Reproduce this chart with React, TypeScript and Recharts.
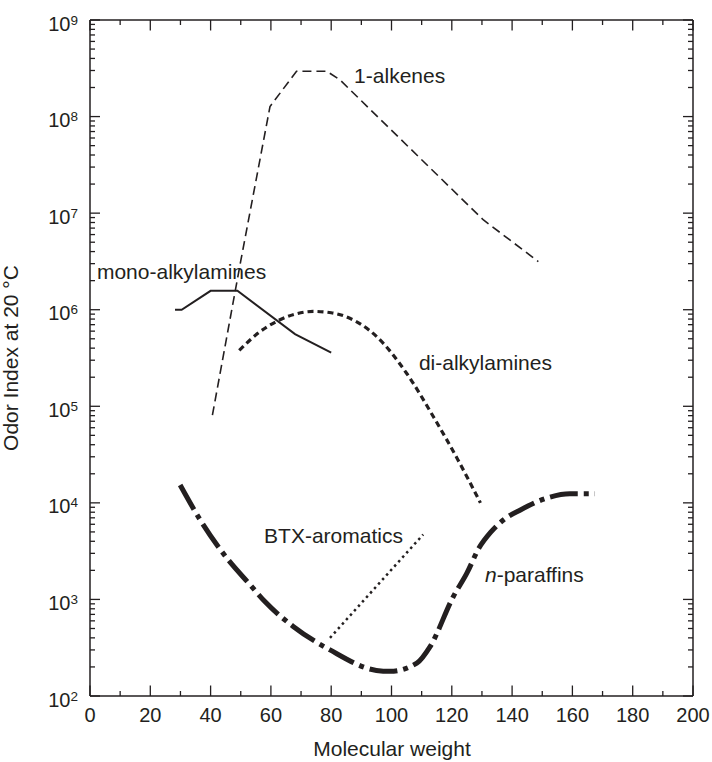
import { LineChart, Line, XAxis, YAxis, ReferenceDot } from "recharts";

const INK = "#231f20";
const FONT = "'Liberation Sans', Arial, Helvetica, sans-serif";

// molecular weight vs odor index
const alkeneMw = [40.6, 50, 59.7, 68.5, 78.5, 82.9, 98, 114, 130.5, 148.7];
const alkeneOdor = [8.1e4, 3.2e6, 1.27e8, 2.95e8, 2.95e8, 2.4e8, 8.3e7, 2.7e7, 8.5e6, 3.15e6];

const monoAmineMw = [28.2, 30.4, 40, 48.9, 68, 80];
const monoAmineOdor = [1e6, 1e6, 1.57e6, 1.57e6, 5.6e5, 3.6e5];

const diAmineMw = [49.5, 56, 62, 68, 74, 80, 86, 95, 105, 114, 122, 129.5];
const diAmineOdor = [3.8e5, 5.8e5, 7.6e5, 9e5, 9.6e5, 9.3e5, 8.2e5, 5.3e5, 2.2e5, 7.7e4, 2.8e4, 1.0e4];

const btxMw = [79.6, 110.5];
const btxOdor = [400, 4700];

const paraffinMw = [29.9, 36.5, 45.3, 53, 58, 67.4, 79.6, 95, 99.5, 108.4, 112.8, 120.5, 125, 129, 133, 137.5, 142.6, 151.5, 159.2, 167.5];
const paraffinOdor = [1.53e4, 6.7e3, 2.7e3, 1.43e3, 950, 525, 300, 184, 180, 219, 325, 1070, 1870, 3400, 5000, 6800, 8400, 1.12e4, 1.24e4, 1.24e4];

// curve annotations: text, anchor point (mw, odor), anchor side
const labelText = ["1-alkenes", "mono-alkylamines", "di-alkylamines", "BTX-aromatics", "-paraffins"];
const labelMw = [87.6, 2.3, 109.1, 103.8, 131];
const labelOdor = [2.24e8, 2.08e6, 2.38e5, 3.86e3, 1.52e3];
const labelAnchor = ["start", "start", "start", "end", "start"];

const xTicks = Array.from({ length: 21 }, (_, i) => i * 10);
const decades = [2, 3, 4, 5, 6, 7, 8];
const yTicks = [...decades.flatMap((d) => [1, 2, 3, 4, 5, 6, 7, 8, 9].map((m) => m * 10 ** d)), 1e9];

const pts = (xs: number[], ys: number[]) => xs.map((x, i) => ({ x, y: ys[i] }));

const XTick = ({ x, y, payload, top }: any) => {
  const v = payload.value;
  const major = v % 20 === 0;
  const dir = top ? 1 : -1;
  return (
    <g>
      <line x1={x} x2={x} y1={y} y2={y + dir * (major ? 10.5 : 5)} stroke={INK} strokeWidth={1.3} />
      {!top && major && (
        <text x={x} y={y + 26} textAnchor="middle" fontSize={20} fill={INK} fontFamily={FONT}>
          {v}
        </text>
      )}
    </g>
  );
};

const YTick = ({ x, y, payload, right }: any) => {
  const e = Math.log10(payload.value);
  const major = Math.abs(e - Math.round(e)) < 1e-9;
  const dir = right ? -1 : 1;
  return (
    <g>
      <line x1={x} x2={x + dir * (major ? 10 : 5)} y1={y} y2={y} stroke={INK} strokeWidth={1.3} />
      {!right && major && (
        <text x={x - 12} y={y + 10.5} textAnchor="end" fontSize={20} fill={INK} fontFamily={FONT}>
          10
          <tspan dy={-6} fontSize={13.5}>
            {Math.round(e)}
          </tspan>
        </text>
      )}
    </g>
  );
};

const axisLine = { stroke: INK, strokeWidth: 1.5 };

export default function App() {
  return (
    <div style={{ position: "absolute", left: 0, top: 0, width: 712, height: 762, background: "#fff" }}>
      <LineChart width={712} height={762} margin={{ top: 0, right: 0, bottom: 0, left: 0 }}>
        <XAxis
          xAxisId="b"
          dataKey="x"
          type="number"
          domain={[0, 200]}
          allowDataOverflow
          ticks={xTicks}
          interval={0}
          height={66}
          tickSize={0}
          tickMargin={0}
          tickLine={false}
          axisLine={axisLine}
          tick={(p: any) => <XTick {...p} />}
        />
        <XAxis
          xAxisId="t"
          orientation="top"
          dataKey="x"
          type="number"
          domain={[0, 200]}
          allowDataOverflow
          ticks={xTicks}
          interval={0}
          height={20}
          tickSize={0}
          tickMargin={0}
          tickLine={false}
          axisLine={axisLine}
          tick={(p: any) => <XTick {...p} top />}
        />
        <YAxis
          yAxisId="l"
          type="number"
          scale="log"
          domain={[100, 1e9]}
          allowDataOverflow
          ticks={yTicks}
          interval={0}
          width={90}
          tickSize={0}
          tickMargin={0}
          tickLine={false}
          axisLine={axisLine}
          tick={(p: any) => <YTick {...p} />}
        />
        <YAxis
          yAxisId="r"
          orientation="right"
          type="number"
          scale="log"
          domain={[100, 1e9]}
          allowDataOverflow
          ticks={yTicks}
          interval={0}
          width={19}
          tickSize={0}
          tickMargin={0}
          tickLine={false}
          axisLine={axisLine}
          tick={(p: any) => <YTick {...p} right />}
        />

        <Line xAxisId="b" yAxisId="l" data={pts(alkeneMw, alkeneOdor)} dataKey="y" type="linear"
          stroke={INK} strokeWidth={1.6} strokeDasharray="9 5" dot={false} isAnimationActive={false} />
        <Line xAxisId="b" yAxisId="l" data={pts(monoAmineMw, monoAmineOdor)} dataKey="y" type="linear"
          stroke={INK} strokeWidth={2} dot={false} isAnimationActive={false} />
        <Line xAxisId="b" yAxisId="l" data={pts(diAmineMw, diAmineOdor)} dataKey="y" type="monotone"
          stroke={INK} strokeWidth={3.2} strokeDasharray="6 4" dot={false} isAnimationActive={false} />
        <Line xAxisId="b" yAxisId="l" data={pts(btxMw, btxOdor)} dataKey="y" type="linear"
          stroke={INK} strokeWidth={2.5} strokeDasharray="2.5 3.5" dot={false} isAnimationActive={false} />
        <Line xAxisId="b" yAxisId="l" data={pts(paraffinMw, paraffinOdor)} dataKey="y" type="monotone"
          stroke={INK} strokeWidth={5} strokeDasharray="28 6 5 6" dot={false} isAnimationActive={false} />

        {labelText.map((t, i) => (
          <ReferenceDot
            key={t}
            xAxisId="b"
            yAxisId="l"
            x={labelMw[i]}
            y={labelOdor[i]}
            r={0}
            ifOverflow="visible"
            shape={(p: any) => (
              <text x={p.cx} y={p.cy} textAnchor={labelAnchor[i]} fontSize={21} fill={INK} fontFamily={FONT}>
                {i === 4 && <tspan fontStyle="italic">n</tspan>}
                {t}
              </text>
            )}
          />
        ))}

        <text x={392} y={756} textAnchor="middle" fontSize={21} fill={INK} fontFamily={FONT}>
          Molecular weight
        </text>
        <text x={17.5} y={358} transform="rotate(-90 17.5 358)" textAnchor="middle" fontSize={21} fill={INK} fontFamily={FONT}>
          Odor Index at 20 °C
        </text>
      </LineChart>
    </div>
  );
}
